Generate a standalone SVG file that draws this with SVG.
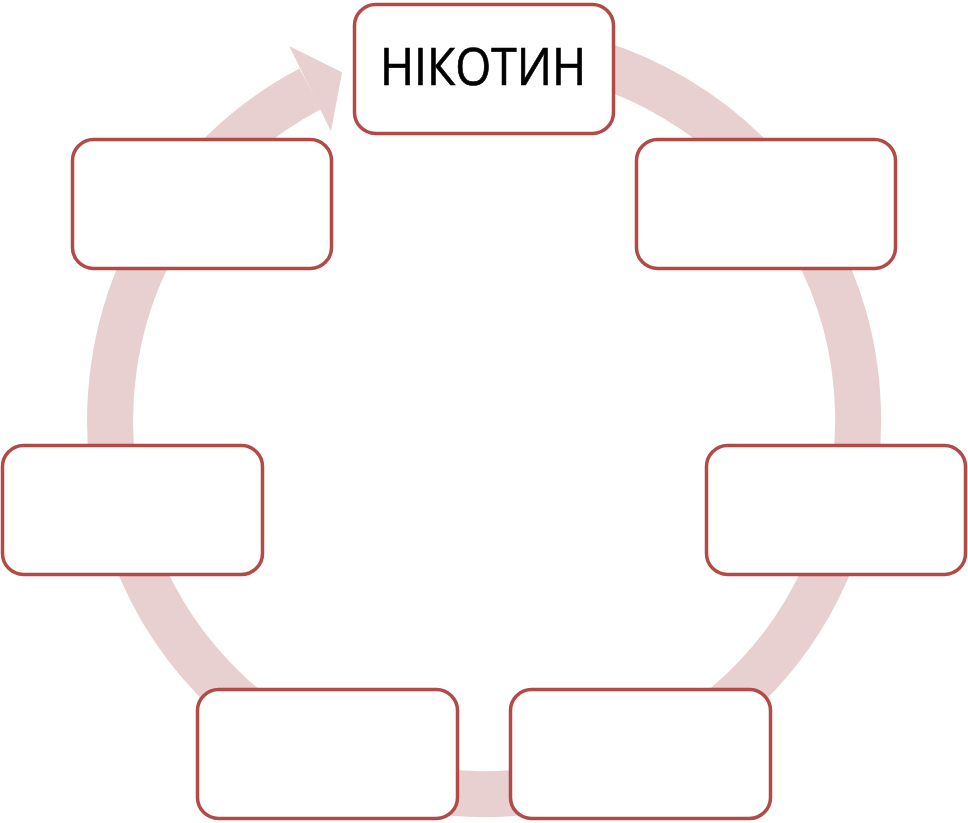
<svg xmlns="http://www.w3.org/2000/svg" width="968" height="823" viewBox="0 0 968 823">
<style>
.box{fill:#ffffff;stroke:#B24A46;stroke-width:3.5}
.ring{fill:none;stroke:#E8D0D1;stroke-width:46}
.lbl{font-family:"Open Sans","Noto Sans",sans-serif;font-size:51px;fill:#000000;stroke:#000000;stroke-width:0.7;text-anchor:middle}
</style>
<rect width="968" height="823" fill="#ffffff"/>
<g id="connectors">
<path class="ring" d="M 516.6 47.4 A 374 374 0 1 1 310.2 88.9"/>
<polygon points="289.4,46.3 342.1,72.2 331.0,131.5" fill="#E8D0D1"/>
</g>
<g id="node-top"><rect class="box" x="354.5" y="4.5" width="259" height="129" rx="21"/>
<text class="lbl" x="483" y="85" textLength="206" lengthAdjust="spacingAndGlyphs">НІКОТИН</text></g>
<g id="node-top-right"><rect class="box" x="636.5" y="139.5" width="259" height="129" rx="21"/></g>
<g id="node-right"><rect class="box" x="706.5" y="445.5" width="259" height="129" rx="21"/></g>
<g id="node-bottom-right"><rect class="box" x="510.5" y="689.5" width="260" height="129" rx="21"/></g>
<g id="node-bottom-left"><rect class="box" x="197.5" y="689.5" width="260" height="129" rx="21"/></g>
<g id="node-left"><rect class="box" x="2.5" y="445.5" width="260" height="129" rx="21"/></g>
<g id="node-top-left"><rect class="box" x="72.5" y="139.5" width="259" height="129" rx="21"/></g>
</svg>
